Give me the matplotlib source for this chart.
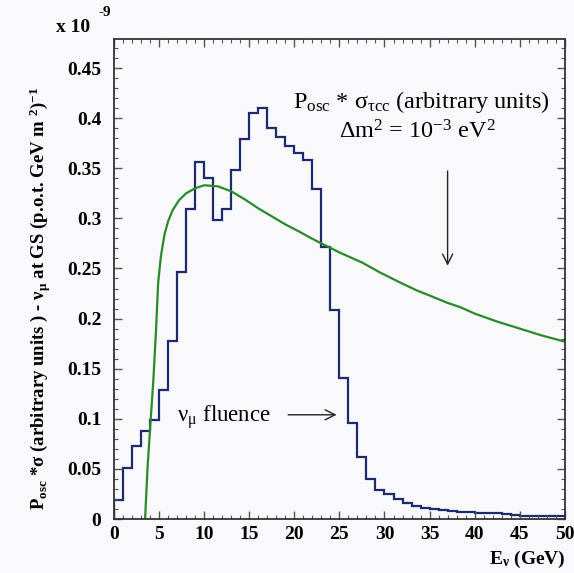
import numpy as np
import matplotlib
matplotlib.use('Agg')
import matplotlib.pyplot as plt
from matplotlib.ticker import MultipleLocator

plt.rcParams['font.family'] = ['Liberation Serif', 'DejaVu Serif']
plt.rcParams['mathtext.fontset'] = 'custom'
plt.rcParams['mathtext.rm'] = 'Liberation Serif'
plt.rcParams['mathtext.it'] = 'Liberation Serif:italic'
plt.rcParams['mathtext.bf'] = 'Liberation Serif:bold'

# nu_mu fluence histogram, 1 GeV bins from 0 to 50 (units of 1e-9)
bin_edges = list(range(0, 51))
fluence = [0.019, 0.051, 0.073, 0.088, 0.099, 0.129, 0.178, 0.246, 0.309, 0.356,
           0.340, 0.298, 0.309, 0.348, 0.379, 0.405, 0.410, 0.390, 0.381, 0.372,
           0.365, 0.358, 0.329, 0.271, 0.209, 0.141, 0.096, 0.062, 0.040, 0.029,
           0.025, 0.020, 0.016, 0.013, 0.011, 0.010, 0.009, 0.008, 0.007, 0.007,
           0.006, 0.006, 0.006, 0.005, 0.004, 0.003, 0.003, 0.003, 0.003, 0.003]

# P_osc * sigma_tau CC curve (arbitrary units)
curve_e = [3.45, 3.72, 4.06, 4.36, 4.66, 4.9, 5.2, 5.6, 6.0, 6.5, 7.2, 8.0,
           9.0, 10.0, 11.5, 13.0, 14.5, 16.0, 17.5, 19.0, 20.5, 21.7, 23.0,
           25.0, 27.5, 29.5, 31.5, 33.6, 35.0, 36.9, 38.5, 40.0, 42.5, 45.0,
           47.5, 50.0]
curve_v = [0.0, 0.051, 0.098, 0.138, 0.188, 0.236, 0.262, 0.284, 0.297, 0.308,
           0.318, 0.325, 0.330, 0.333, 0.332, 0.327, 0.319, 0.310, 0.302, 0.294,
           0.287, 0.281, 0.275, 0.266, 0.256, 0.246, 0.237, 0.228, 0.223, 0.216,
           0.211, 0.205, 0.197, 0.190, 0.183, 0.177]

fig = plt.figure(figsize=(5.74, 5.73), dpi=100, facecolor='#f9f9fb')
ax = fig.add_axes([0.1986, 0.0942, 0.7854, 0.8378])
ax.set_facecolor('#f9f9fb')

ax.stairs(fluence, bin_edges, color='#1c2a6e', lw=1.6, baseline=0)
ax.plot(curve_e, curve_v, color='#2a8a2a', lw=1.6)

ax.set_xlim(0, 50)
ax.set_ylim(0, 0.479)
ax.xaxis.set_major_locator(MultipleLocator(5))
ax.xaxis.set_minor_locator(MultipleLocator(1))
ax.yaxis.set_major_locator(MultipleLocator(0.05))
ax.yaxis.set_minor_locator(MultipleLocator(0.01))
ax.tick_params(which='both', direction='in', top=True, right=True, color='#555555')
ax.tick_params(which='major', length=6, width=1)
ax.tick_params(which='minor', length=3, width=0.8)
ax.tick_params(axis='y', pad=9, labelsize=14)
ax.tick_params(axis='x', pad=5, labelsize=14)
ax.set_yticks(np.arange(0, 0.46, 0.05))
ax.set_yticklabels(['0', '0.05', '0.1', '0.15', '0.2', '0.25', '0.3', '0.35', '0.4', '0.45'])
for lab in ax.get_xticklabels() + ax.get_yticklabels():
    lab.set_fontweight('bold')
for sp in ax.spines.values():
    sp.set_linewidth(1.3)
    sp.set_color('#333333')

ax.set_ylabel(r'$\mathbf{P_{osc}}$ *σ (arbitrary units ) - $\mathbf{ν_{μ}}$ at GS (p.o.t. GeV m $\mathbf{^{2}}$)$\mathbf{^{-1}}$',
              fontsize=13.5, fontweight='bold')
ax.yaxis.set_label_coords(-0.135, 0.46)
fig.text(0.985, 0.016, r'$\mathbf{E_{ν}}$ (GeV)', ha='right', fontsize=14, fontweight='bold')

fig.text(0.098, 0.945, 'x 10', fontsize=14, fontweight='bold')
fig.text(0.172, 0.972, '-9', fontsize=11, fontweight='bold')

ax.text(34.1, 0.416, r'P$_{\rm osc}$ * σ$_{\rm τcc}$ (arbitrary units)', ha='center', va='center', fontsize=17.5)
ax.text(33.6, 0.386, r'Δm$^{2}$ = 10$^{-3}$ eV$^{2}$', ha='center', va='center', fontsize=17.5)
ax.annotate('', xy=(37.0, 0.250), xytext=(37.0, 0.350),
            arrowprops=dict(arrowstyle='->', color='#222222', lw=1.0, mutation_scale=18))

ax.text(7.0, 0.102, r'ν$_{\rm μ}$ fluence', ha='left', va='center', fontsize=16.5)
ax.annotate('', xy=(25.0, 0.104), xytext=(19.0, 0.104),
            arrowprops=dict(arrowstyle='->', color='#222222', lw=1.0, mutation_scale=18))

fig.savefig('out.png', dpi=100, facecolor=fig.get_facecolor())
